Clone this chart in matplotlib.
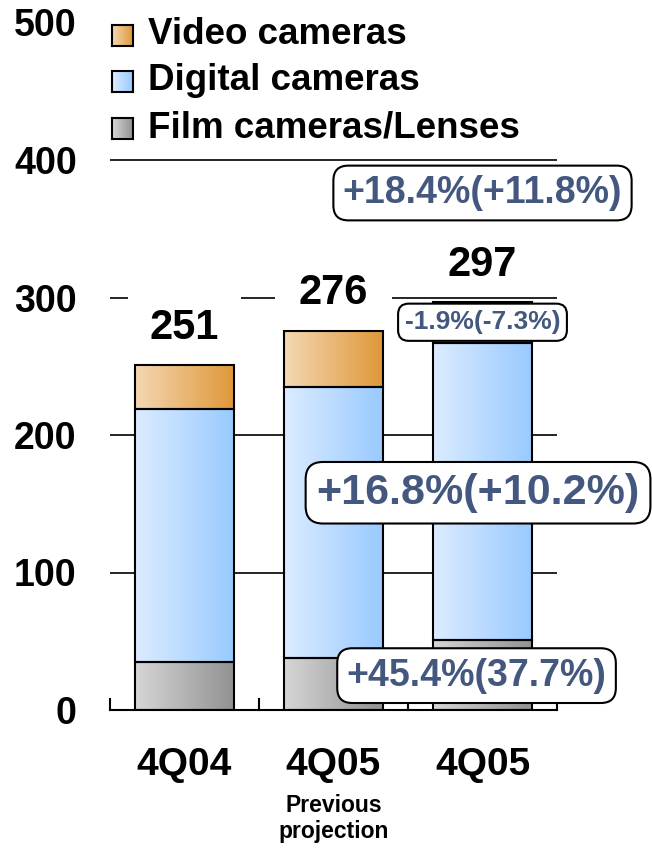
# %%
'''
Stacked bar chart: camera sales 4Q04 vs 4Q05
'''

import numpy as np
import matplotlib.pyplot as plt
from matplotlib.colors import LinearSegmentedColormap
from matplotlib.patches import Rectangle

plt.rcParams['font.family'] = ['Liberation Sans', 'DejaVu Sans']
plt.rcParams['font.weight'] = 'bold'

# %%
# data

quarters = ['4Q04', '4Q05', '4Q05']
sublabels = ['', 'Previous\nprojection', '']
film = [35, 38, 51]
digital = [184, 197, 216]
video = [32, 41, 30]
totals = [251, 276, 297]
series_names = ['Video cameras', 'Digital cameras', 'Film cameras/Lenses']

growth_labels = ['+18.4%(+11.8%)', '-1.9%(-7.3%)', '+16.8%(+10.2%)', '+45.4%(37.7%)']

# %%
# style

grads = {
    'film': ('#d6d6d6', '#929292'),
    'digital': ('#dcecff', '#99caff'),
    'video': ('#f4d8b4', '#df9839'),
}
txt_blue = '#44587f'
bar_w = 0.66
label_pad = [16, 17, 2]  # white box behind the total labels (hides grid)

def grad_rect(ax, x0, y0, w, h, cols, z=2):
    cmap = LinearSegmentedColormap.from_list('g', cols)
    g = np.linspace(0, 1, 256).reshape(1, -1)
    ax.imshow(g, cmap=cmap, aspect='auto', extent=[x0, x0 + w, y0, y0 + h],
              zorder=z, interpolation='bicubic')
    ax.add_patch(Rectangle((x0, y0), w, h, fill=False, edgecolor='black',
                           linewidth=1.5, zorder=z + 0.1))

# %%
# plot

fig = plt.figure(figsize=(6.52, 8.48), dpi=100)
ax = fig.add_axes([110 / 652, 138 / 848, 447 / 652, 687.5 / 848])

x = np.arange(len(quarters))
for i in x:
    base = 0
    for vals, key in [(film, 'film'), (digital, 'digital'), (video, 'video')]:
        grad_rect(ax, i - bar_w / 2, base, bar_w, vals[i], grads[key])
        base += vals[i]
    ax.text(i, totals[i] + 27, str(totals[i]), ha='center', va='center',
            fontsize=30, color='black', zorder=1.5,
            bbox=dict(facecolor='white', edgecolor='none', pad=label_pad[i]))

ax.set_xlim(-0.5, 2.5)
ax.set_ylim(0, 500)
ax.set_yticks([0, 100, 200, 300, 400, 500])
for yv in [100, 200, 300, 400]:
    ax.axhline(yv, color='black', linewidth=1.2, zorder=1)

for s in ['top', 'right', 'left']:
    ax.spines[s].set_visible(False)
ax.spines['bottom'].set_linewidth(1.5)
ax.spines['bottom'].set_zorder(4)
ax.tick_params(axis='y', length=0, pad=24, labelsize=27)
ax.set_xticks([])
for xb in [-0.5, 0.5, 1.5, 2.5]:
    ax.plot([xb, xb], [0, 8], color='black', linewidth=1.5, zorder=4, clip_on=False)
for lab in ax.get_yticklabels():
    lab.set_fontweight('bold')

# category labels
for i, q in enumerate(quarters):
    ax.text(i, -40, q, ha='center', va='center', fontsize=28)
    if sublabels[i]:
        ax.text(i, -79, sublabels[i], ha='center', va='center', fontsize=16.5,
                linespacing=1.2)

# growth boxes
box = dict(boxstyle='round,pad=0.25,rounding_size=0.4', facecolor='white',
           edgecolor='black', linewidth=1.5)
ax.text(2.0, 376, growth_labels[0], ha='center', va='center', fontsize=27,
        color=txt_blue, zorder=6, bbox=box)
ax.text(2.0, 282, growth_labels[1], ha='center', va='center', fontsize=19,
        color=txt_blue, zorder=6, bbox=box)
ax.text(1.97, 158, growth_labels[2], ha='center', va='center', fontsize=31,
        color=txt_blue, zorder=6, bbox=box)
ax.text(1.96, 25, growth_labels[3], ha='center', va='center', fontsize=27,
        color=txt_blue, zorder=6, bbox=box)

# legend drawn by hand (gradient squares)
leg_cols = [grads['video'], grads['digital'], grads['film']]
leg_y = [35, 81, 128]
for name, cols, yp in zip(series_names, leg_cols, leg_y):
    lax = fig.add_axes([112 / 652, (848 - yp - 10.5) / 848, 21 / 652, 21 / 848])
    cmap = LinearSegmentedColormap.from_list('g', cols)
    lax.imshow(np.linspace(0, 1, 64).reshape(1, -1), cmap=cmap, aspect='auto')
    lax.set_xticks([])
    lax.set_yticks([])
    for sp in lax.spines.values():
        sp.set_linewidth(1.5)
    fig.text(148 / 652, (848 - yp) / 848, name, ha='left', va='center',
             fontsize=26.5)

fig.savefig('out.png', dpi=100)
